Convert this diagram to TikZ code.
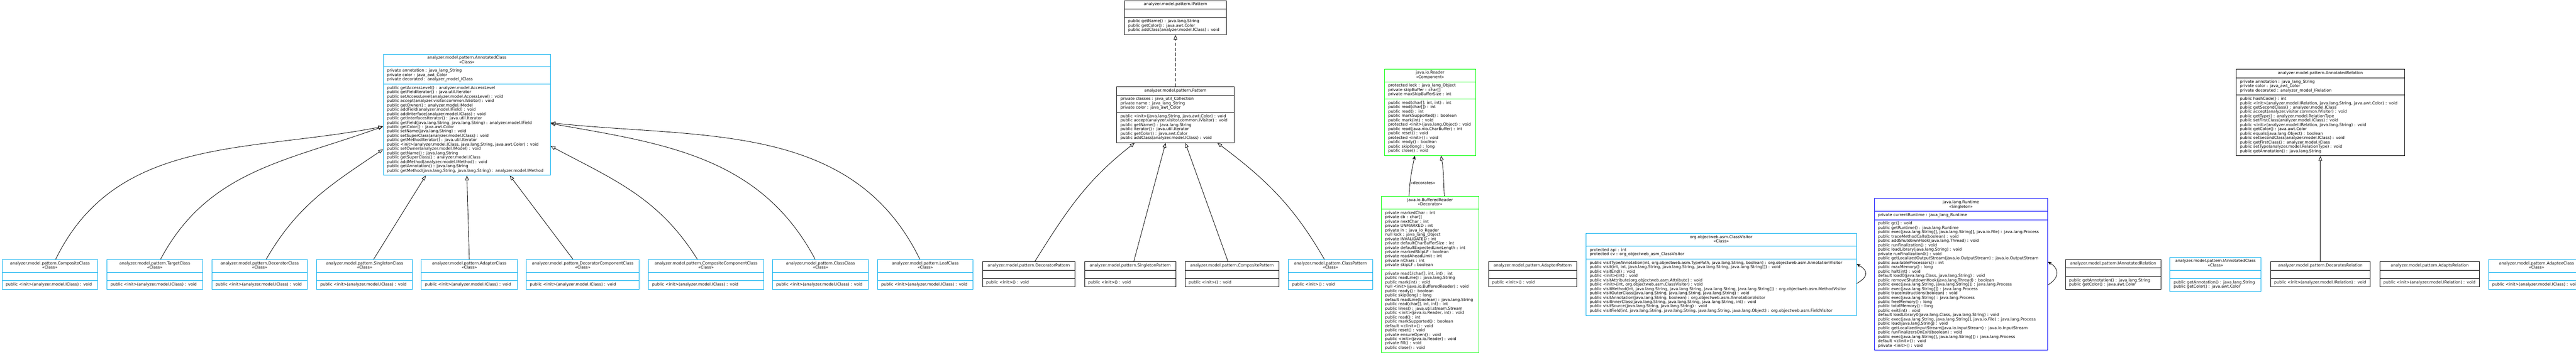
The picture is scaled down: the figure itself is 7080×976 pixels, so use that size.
\documentclass[tikz,border=0pt]{standalone}
\usepackage{fontspec}
\setmainfont{DejaVu Sans}
\usetikzlibrary{positioning, arrows.meta, shapes.multipart}
\newcommand{\st}[1]{\textless\textless#1\textgreater\textgreater}
\newcommand{\classparts}[3]{{\centering\strut#1\strut\par}\nodepart{two}\strut#2\strut\nodepart{three}\strut#3\strut}

\begin{document}
\begin{tikzpicture}[x=1pt, y=1pt,
    umlclass/.style={rectangle split, rectangle split parts=3, draw, line width=1.3pt, align=left,
      inner xsep=10pt, inner ysep=5pt, font=\fontsize{11}{12}\selectfont},
    inherit/.style={-{Triangle[open, length=13pt, width=10pt]}, line width=1.2pt},
    realize/.style={inherit, dash pattern=on 9pt off 5pt},
    uses/.style={-{Stealth[length=11pt, width=9pt]}, line width=1.2pt}]
\useasboundingbox (0,0) rectangle (7080,-976);

% Nodes
\node (annotatedclass) [umlclass, draw=cyan, text width=439pt, anchor=north west] at (1053,-148) {\classparts
  {analyzer.model.pattern.AnnotatedClass\\\st{Class}}
  {private annotation : java\_lang\_String\\private color : java\_awt\_Color\\private decorated : analyzer\_model\_IClass}
  {public getAccessLevel() : analyzer.model.AccessLevel\\
   public getFieldIterator() : java.util.Iterator\\
   public setAccessLevel(analyzer.model.AccessLevel) : void\\
   public accept(analyzer.visitor.common.IVisitor) : void\\
   public getOwner() : analyzer.model.IModel\\
   public addField(analyzer.model.IField) : void\\
   public addInterface(analyzer.model.IClass) : void\\
   public getInterfacesIterator() : java.util.Iterator\\
   public getField(java.lang.String, java.lang.String) : analyzer.model.IField\\
   public getColor() : java.awt.Color\\
   public setName(java.lang.String) : void\\
   public setSuperClass(analyzer.model.IClass) : void\\
   public getMethodIterator() : java.util.Iterator\\
   public <init>(analyzer.model.IClass, java.lang.String, java.awt.Color) : void\\
   public setOwner(analyzer.model.IModel) : void\\
   public getName() : java.lang.String\\
   public getSuperClass() : analyzer.model.IClass\\
   public addMethod(analyzer.model.IMethod) : void\\
   public getAnnotation() : java.lang.String\\
   public getMethod(java.lang.String, java.lang.String) : analyzer.model.IMethod}};

\node (pattern) [umlclass, text width=302pt, anchor=north west] at (3069,-238) {\classparts
  {analyzer.model.pattern.Pattern}
  {private classes : java\_util\_Collection\\private name : java\_lang\_String\\private color : java\_awt\_Color}
  {public <init>(java.lang.String, java.awt.Color) : void\\
   public accept(analyzer.visitor.common.IVisitor) : void\\
   public getName() : java.lang.String\\
   public iterator() : java.util.Iterator\\
   public getColor() : java.awt.Color\\
   public addClass(analyzer.model.IClass) : void}};
\node (ipattern) [umlclass, text width=260pt, above=142pt of pattern] {\classparts
  {analyzer.model.pattern.IPattern}
  {}
  {public getName() : java.lang.String\\
   public getColor() : java.awt.Color\\
   public addClass(analyzer.model.IClass) : void}};

\node (compositeclass) [umlclass, draw=cyan, text width=243pt, anchor=west] at (5,-755) {\classparts
  {analyzer.model.pattern.CompositeClass\\\st{Class}}{}{public <init>(analyzer.model.IClass) : void}};
\node (targetclass) [umlclass, draw=cyan, text width=243pt, right=24pt of compositeclass] {\classparts
  {analyzer.model.pattern.TargetClass\\\st{Class}}{}{public <init>(analyzer.model.IClass) : void}};
\node (decoratorclass) [umlclass, draw=cyan, text width=243pt, right=24pt of targetclass] {\classparts
  {analyzer.model.pattern.DecoratorClass\\\st{Class}}{}{public <init>(analyzer.model.IClass) : void}};
\node (singletonclass) [umlclass, draw=cyan, text width=243pt, right=24pt of decoratorclass] {\classparts
  {analyzer.model.pattern.SingletonClass\\\st{Class}}{}{public <init>(analyzer.model.IClass) : void}};
\node (adapterclass) [umlclass, draw=cyan, text width=244pt, right=23pt of singletonclass] {\classparts
  {analyzer.model.pattern.AdapterClass\\\st{Class}}{}{public <init>(analyzer.model.IClass) : void}};
\node (decoratorcomponentclass) [umlclass, draw=cyan, text width=291pt, right=23pt of adapterclass] {\classparts
  {analyzer.model.pattern.DecoratorComponentClass\\\st{Class}}{}{public <init>(analyzer.model.IClass) : void}};
\node (compositecomponentclass) [umlclass, draw=cyan, text width=296pt, right=24pt of decoratorcomponentclass] {\classparts
  {analyzer.model.pattern.CompositeComponentClass\\\st{Class}}{}{public <init>(analyzer.model.IClass) : void}};
\node (classclass) [umlclass, draw=cyan, text width=243pt, right=24pt of compositecomponentclass] {\classparts
  {analyzer.model.pattern.ClassClass\\\st{Class}}{}{public <init>(analyzer.model.IClass) : void}};
\node (leafclass) [umlclass, draw=cyan, text width=242pt, right=24pt of classclass] {\classparts
  {analyzer.model.pattern.LeafClass\\\st{Class}}{}{public <init>(analyzer.model.IClass) : void}};

\node (decoratorpattern) [umlclass, text width=234pt, right=25pt of leafclass] {\classparts
  {analyzer.model.pattern.DecoratorPattern}{}{public <init>() : void}};
\node (singletonpattern) [umlclass, text width=231pt, right=25pt of decoratorpattern] {\classparts
  {analyzer.model.pattern.SingletonPattern}{}{public <init>() : void}};
\node (compositepattern) [umlclass, text width=238pt, right=24pt of singletonpattern] {\classparts
  {analyzer.model.pattern.CompositePattern}{}{public <init>() : void}};
\node (classpattern) [umlclass, draw=cyan, text width=211pt, right=25pt of compositepattern] {\classparts
  {analyzer.model.pattern.ClassPattern\\\st{Class}}{}{public <init>() : void}};

\node (bufferedreader) [umlclass, draw=green, text width=248pt, right=23pt of classpattern] {\classparts
  {java.io.BufferedReader\\\st{Decorator}}
  {private markedChar : int\\
   private cb : char[]\\
   private nextChar : int\\
   private UNMARKED : int\\
   private in : java\_io\_Reader\\
   null lock : java\_lang\_Object\\
   private INVALIDATED : int\\
   private defaultCharBufferSize : int\\
   private defaultExpectedLineLength : int\\
   private markedSkipLF : boolean\\
   private readAheadLimit : int\\
   private nChars : int\\
   private skipLF : boolean}
  {private read1(char[], int, int) : int\\
   public readLine() : java.lang.String\\
   public mark(int) : void\\
   null <init>(java.io.BufferedReader) : void\\
   public ready() : boolean\\
   public skip(long) : long\\
   default readLine(boolean) : java.lang.String\\
   public read(char[], int, int) : int\\
   public lines() : java.util.stream.Stream\\
   public <init>(java.io.Reader, int) : void\\
   public read() : int\\
   public markSupported() : boolean\\
   default <clinit>() : void\\
   public reset() : void\\
   private ensureOpen() : void\\
   public <init>(java.io.Reader) : void\\
   private fill() : void\\
   public close() : void}};
\node (reader) [umlclass, draw=green, text width=230pt, above=111pt of bufferedreader] {\classparts
  {java.io.Reader\\\st{Component}}
  {protected lock : java\_lang\_Object\\private skipBuffer : char[]\\private maxSkipBufferSize : int}
  {public read(char[], int, int) : int\\
   public read(char[]) : int\\
   public read() : int\\
   public markSupported() : boolean\\
   public mark(int) : void\\
   protected <init>(java.lang.Object) : void\\
   public read(java.nio.CharBuffer) : int\\
   public reset() : void\\
   protected <init>() : void\\
   public ready() : boolean\\
   public skip(long) : long\\
   public close() : void}};

\node (adapterpattern) [umlclass, text width=223pt, right=25pt of bufferedreader] {\classparts
  {analyzer.model.pattern.AdapterPattern}{}{public <init>() : void}};

\node (classvisitor) [umlclass, draw=cyan, text width=723pt, right=24pt of adapterpattern] {\classparts
  {org.objectweb.asm.ClassVisitor\\\st{Class}}
  {protected api : int\\protected cv : org\_objectweb\_asm\_ClassVisitor}
  {public visitTypeAnnotation(int, org.objectweb.asm.TypePath, java.lang.String, boolean) : org.objectweb.asm.AnnotationVisitor\\
   public visit(int, int, java.lang.String, java.lang.String, java.lang.String, java.lang.String[]) : void\\
   public visitEnd() : void\\
   public <init>(int) : void\\
   public visitAttribute(org.objectweb.asm.Attribute) : void\\
   public <init>(int, org.objectweb.asm.ClassVisitor) : void\\
   public visitMethod(int, java.lang.String, java.lang.String, java.lang.String, java.lang.String[]) : org.objectweb.asm.MethodVisitor\\
   public visitOuterClass(java.lang.String, java.lang.String, java.lang.String) : void\\
   public visitAnnotation(java.lang.String, boolean) : org.objectweb.asm.AnnotationVisitor\\
   public visitInnerClass(java.lang.String, java.lang.String, java.lang.String, int) : void\\
   public visitSource(java.lang.String, java.lang.String) : void\\
   public visitField(int, java.lang.String, java.lang.String, java.lang.String, java.lang.Object) : org.objectweb.asm.FieldVisitor}};

\node (runtime) [umlclass, draw=blue, text width=456pt, right=48pt of classvisitor] {\classparts
  {java.lang.Runtime\\\st{Singleton}}
  {private currentRuntime : java\_lang\_Runtime}
  {public gc() : void\\
   public getRuntime() : java.lang.Runtime\\
   public exec(java.lang.String[], java.lang.String[], java.io.File) : java.lang.Process\\
   public traceMethodCalls(boolean) : void\\
   public addShutdownHook(java.lang.Thread) : void\\
   public runFinalization() : void\\
   public loadLibrary(java.lang.String) : void\\
   private runFinalization0() : void\\
   public getLocalizedOutputStream(java.io.OutputStream) : java.io.OutputStream\\
   public availableProcessors() : int\\
   public maxMemory() : long\\
   public halt(int) : void\\
   default load0(java.lang.Class, java.lang.String) : void\\
   public removeShutdownHook(java.lang.Thread) : boolean\\
   public exec(java.lang.String, java.lang.String[]) : java.lang.Process\\
   public exec(java.lang.String[]) : java.lang.Process\\
   public traceInstructions(boolean) : void\\
   public exec(java.lang.String) : java.lang.Process\\
   public freeMemory() : long\\
   public totalMemory() : long\\
   public exit(int) : void\\
   default loadLibrary0(java.lang.Class, java.lang.String) : void\\
   public exec(java.lang.String, java.lang.String[], java.io.File) : java.lang.Process\\
   public load(java.lang.String) : void\\
   public getLocalizedInputStream(java.io.InputStream) : java.io.InputStream\\
   public runFinalizersOnExit(boolean) : void\\
   public exec(java.lang.String[], java.lang.String[]) : java.lang.Process\\
   default <clinit>() : void\\
   private <init>() : void}};

\node (iannotatedrelation) [umlclass, text width=242pt, right=48pt of runtime] {\classparts
  {analyzer.model.pattern.IAnnotatedRelation}{}{public getAnnotation() : java.lang.String\\public getColor() : java.awt.Color}};
\node (iannotatedclass) [umlclass, draw=cyan, text width=230pt, right=24pt of iannotatedrelation] {\classparts
  {analyzer.model.pattern.IAnnotatedClass\\\st{Class}}{}{public getAnnotation() : java.lang.String\\public getColor() : java.awt.Color}};
\node (decoratesrelation) [umlclass, text width=254pt, right=25pt of iannotatedclass] {\classparts
  {analyzer.model.pattern.DecoratesRelation}{}{public <init>(analyzer.model.IRelation) : void}};
\node (adaptsrelation) [umlclass, text width=254pt, right=25pt of decoratesrelation] {\classparts
  {analyzer.model.pattern.AdaptsRelation}{}{public <init>(analyzer.model.IRelation) : void}};
\node (adapteeclass) [umlclass, draw=cyan, text width=243pt, right=24pt of adaptsrelation] {\classparts
  {analyzer.model.pattern.AdapteeClass\\\st{Class}}{}{public <init>(analyzer.model.IClass) : void}};

\node (annotatedrelation) [umlclass, text width=442pt, above=290pt of decoratesrelation] {\classparts
  {analyzer.model.pattern.AnnotatedRelation}
  {private annotation : java\_lang\_String\\private color : java\_awt\_Color\\private decorated : analyzer\_model\_IRelation}
  {public hashCode() : int\\
   public <init>(analyzer.model.IRelation, java.lang.String, java.awt.Color) : void\\
   public getSecondClass() : analyzer.model.IClass\\
   public accept(analyzer.visitor.common.IVisitor) : void\\
   public getType() : analyzer.model.RelationType\\
   public setFirstClass(analyzer.model.IClass) : void\\
   public <init>(analyzer.model.IRelation, java.lang.String) : void\\
   public getColor() : java.awt.Color\\
   public equals(java.lang.Object) : boolean\\
   public setSecondClass(analyzer.model.IClass) : void\\
   public getFirstClass() : analyzer.model.IClass\\
   public setType(analyzer.model.RelationType) : void\\
   public getAnnotation() : java.lang.String}};

% Arrows
\draw[inherit] ([xshift=16pt]compositeclass.north) to[out=64, in=191] ([yshift=-200pt]annotatedclass.north west);
\draw[inherit] ([xshift=16pt]targetclass.north) to[out=62, in=200] ([yshift=-200pt]annotatedclass.north west);
\draw[inherit] ([xshift=18pt]decoratorclass.north) to[out=60, in=214] ([yshift=-263pt]annotatedclass.north west);
\draw[inherit] ([xshift=25pt]singletonclass.north) -- ([xshift=-113pt]annotatedclass.south);
\draw[inherit] (adapterclass.north) -- (annotatedclass.south);
\draw[inherit] ([xshift=-27pt]decoratorcomponentclass.north) -- ([xshift=118pt]annotatedclass.south);
\draw[inherit] ([xshift=-24pt]compositecomponentclass.north) to[out=122, in=-28] ([yshift=-254pt]annotatedclass.north east);
\draw[inherit] ([xshift=-15pt]classclass.north) to[out=118, in=-10] ([yshift=-192pt]annotatedclass.north east);
\draw[inherit] ([xshift=-15pt]leafclass.north) to[out=116, in=-6] ([yshift=-190pt]annotatedclass.north east);

\draw[inherit] ([xshift=17pt]decoratorpattern.north) to[out=58, in=218] ([xshift=-112pt]pattern.south);
\draw[inherit] ([xshift=10pt]singletonpattern.north) -- ([xshift=-27pt]pattern.south);
\draw[inherit] ([xshift=-11pt]compositepattern.north) -- ([xshift=27pt]pattern.south);
\draw[inherit] ([xshift=-17pt]classpattern.north) to[out=120, in=-37] ([xshift=115pt]pattern.south);
\draw[realize] (pattern.north) -- (ipattern.south);

\draw[uses] ([xshift=-58pt]bufferedreader.north) to[out=87, in=-102] node[pos=0.3, right, inner sep=1pt, font=\fontsize{11}{12}\selectfont] {\st{decorates}} ([xshift=-42pt]reader.south);
\draw[inherit] ([xshift=39pt]bufferedreader.north) to[out=93, in=-80] ([xshift=30pt]reader.south);

\draw[uses] ([yshift=-139pt]classvisitor.north east) to[out=30, in=-30, looseness=1.8] ([yshift=-85pt]classvisitor.north east);
\draw[uses] ([yshift=-239pt]runtime.north east) to[out=30, in=-30, looseness=1.5] ([yshift=-175pt]runtime.north east);

\draw[inherit] (decoratesrelation.north) -- (annotatedrelation.south);
\end{tikzpicture}
\end{document}
